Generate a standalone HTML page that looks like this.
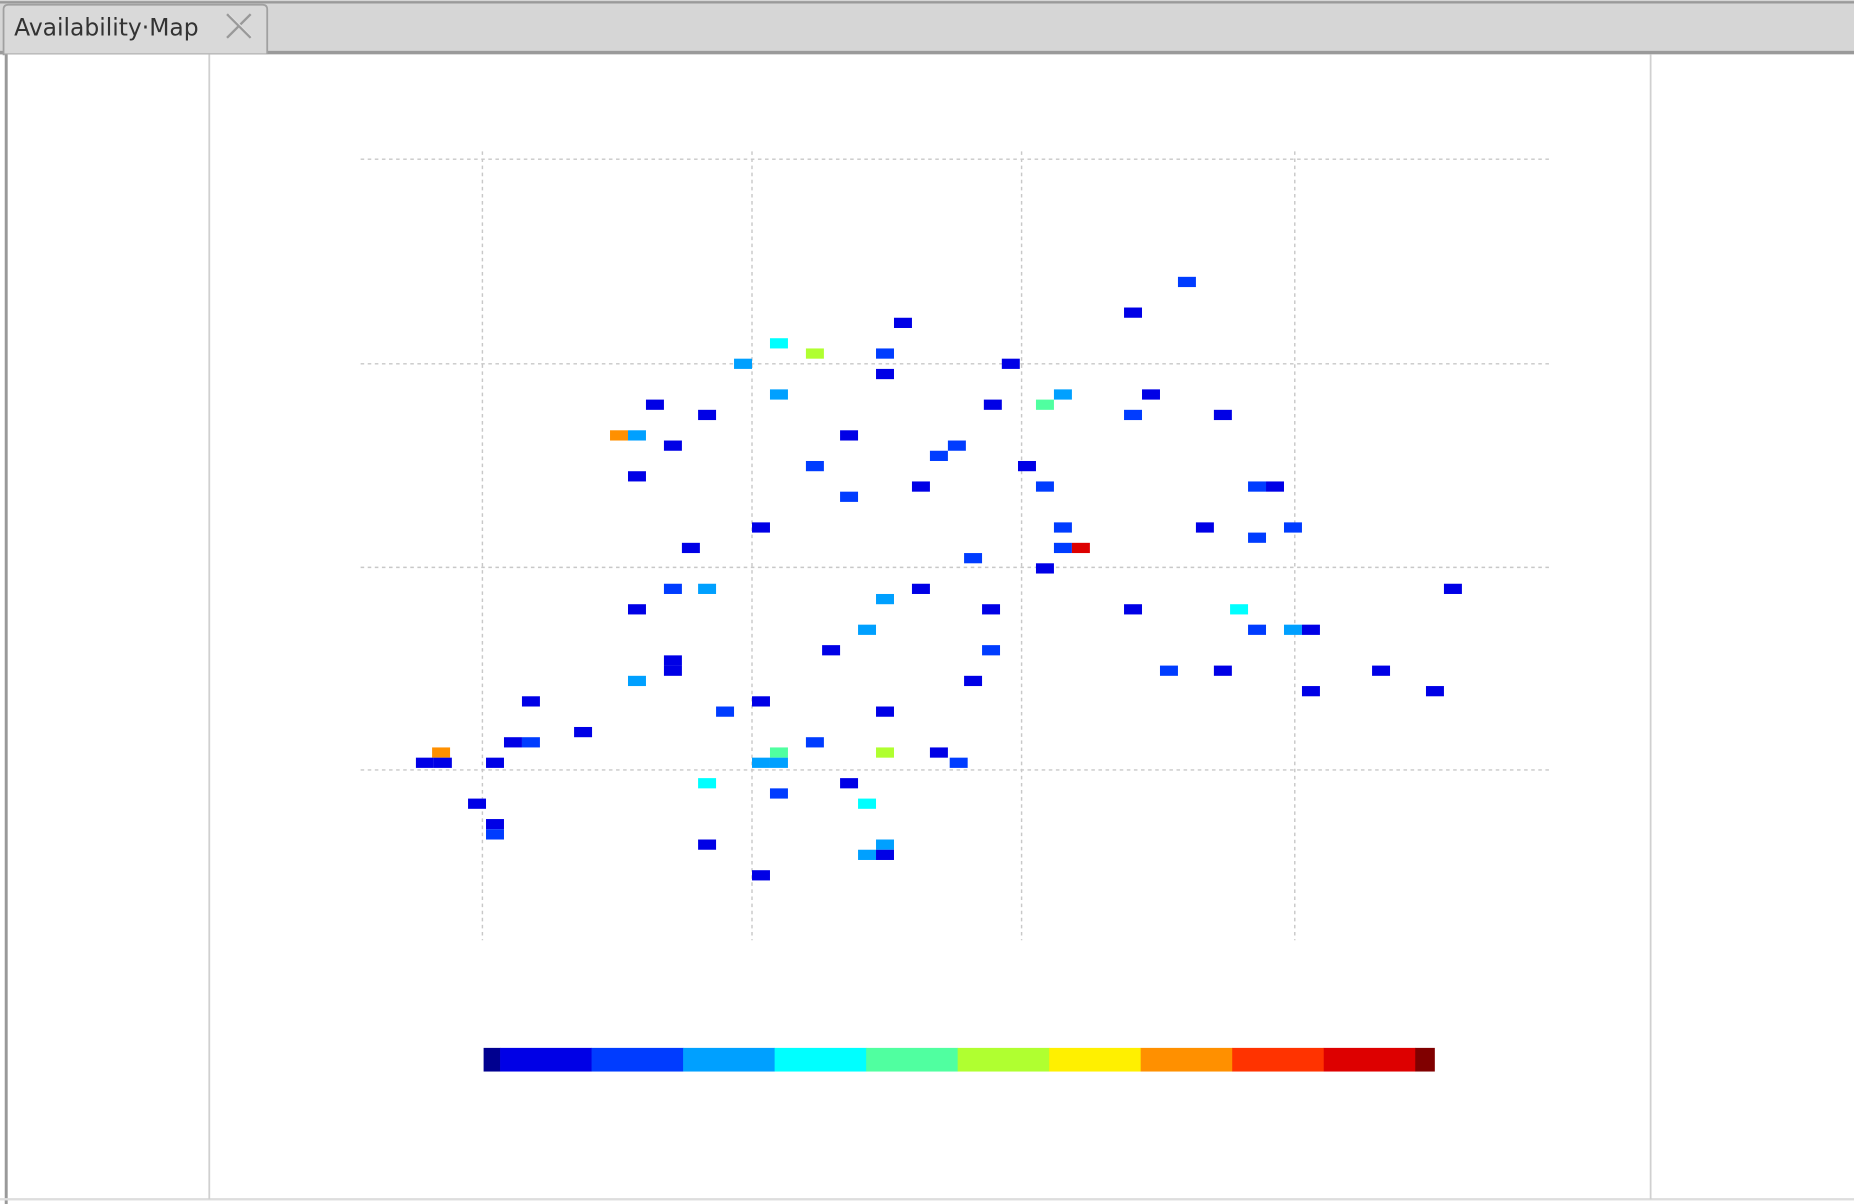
<!DOCTYPE html>
<html><head><meta charset="utf-8"><style>
html,body{margin:0;padding:0;background:#fff;width:1854px;height:1204px;overflow:hidden}
svg{display:block}
</style></head><body>
<svg id="root" width="1854" height="1204" viewBox="0 0 1568 1018" preserveAspectRatio="none" xmlns="http://www.w3.org/2000/svg">
  <rect x="0" y="0" width="1568" height="46" fill="#d6d6d6"/>
  <line x1="0" y1="2" x2="1568" y2="2" stroke="#9a9a9a" stroke-width="2"/>
  <rect x="0" y="43" width="1568" height="3" fill="#9a9a9a"/>
  <g>
    <path d="M3,46 L3,8 Q3,4 7,4 L222,4 Q226,4 226,8 L226,46 Z" fill="#d9d9d9" stroke="#a0a0a0" stroke-width="1.5"/>
    <text x="12" y="30" font-family="DejaVu Sans, Liberation Sans, sans-serif" font-size="20" fill="#333" textLength="156" lengthAdjust="spacingAndGlyphs">Availability·Map</text>
    <g stroke="#999" stroke-width="2" fill="none">
      <line x1="192" y1="12" x2="212" y2="32"/><line x1="212" y1="12" x2="192" y2="32"/>
      <line x1="194" y1="12" x2="214" y2="32" stroke="#ddd" stroke-width="1"/>
    </g>
  </g>
  <rect x="4" y="46" width="1564" height="968" fill="#fff"/>
  <rect x="4" y="46" width="2.5" height="972" fill="#999"/>
  <rect x="0" y="1013" width="1568" height="2" fill="#ddd"/>
  <line x1="177" y1="46" x2="177" y2="1014" stroke="#d0d0d0" stroke-width="1.5"/>
  <line x1="1396" y1="46" x2="1396" y2="1014" stroke="#d0d0d0" stroke-width="1.5"/>
  <g id="grid"></g>
  <g id="cells"></g>
  <g id="colorbar"></g>
</svg>
<script>
// grid lines (axis units)
const xGridTicks = [0, 15, 30, 45.2];
const yGridTicks = [0, 19.8, 39.7, 59.7];
// cell data: column (lon-like), row (lat-like), level (0-11)
const lons = [38.7,35.7,22.9,16.0,18.0,21.9,14.0,28.9,21.9,16.0,31.8,36.7,9.1,27.9,30.8,12.0,35.7,40.7,7.1,8.1,19.9,10.1,25.9,24.9,18.0,29.8,8.1,23.9,30.8,42.6,43.6,19.9,15.0,31.8,39.7,44.6,11.1,31.8,32.8,42.6,26.8,30.8,10.1,12.0,23.9,53.5,21.9,8.1,27.8,35.7,41.6,20.9,42.6,44.6,45.6,18.9,27.8,10.1,10.1,37.7,40.7,49.5,8.1,26.8,45.6,52.5,2.2,15.0,13.0,21.9,5.1,1.2,2.2,18.0,-2.8,16.0,21.9,24.9,-3.7,-2.7,0.2,15.0,16.0,26.0,12.0,19.9,16.0,-0.8,20.9,0.2,0.2,12.0,21.9,20.9,21.9,15.0];
const lats = [48,45,44,42,41,41,40,40,39,37,37,37,36,36,36,35,35,35,33,33,33,32,32,31,30,30,29,28,28,28,28,27,24,24,24,24,22,22,22,23,21,20,18,18,18,18,17,16,16,16,16,14,14,14,14,12,12,11,10,10,10,10,9,9,8,8,7,7,6,6,4,3,3,3,2,2,2,2,1,1,1,1,1,1,-1,-1,-2,-3,-3,-5,-6,-7,-7,-8,-8,-10];
const vals = [2,1,1,4,6,2,3,1,1,3,3,1,1,1,5,1,2,1,8,3,1,1,2,2,2,1,1,1,2,2,1,2,1,2,1,2,1,2,10,2,2,1,2,3,1,1,3,1,1,1,4,3,2,3,1,1,2,1,1,2,1,1,3,1,1,1,1,1,2,1,1,1,2,2,8,5,6,1,1,1,1,3,3,2,4,1,2,1,4,1,2,1,3,3,1,1];
const palette = ['#00008f','#0000e6','#003cff','#00a0ff','#00ffff','#50ffa0','#b0ff30','#fff000','#ff9000','#ff3300','#dd0000','#800000'];
const colorbarBounds = [0,0.18,1.18,2.18,3.18,4.18,5.18,6.18,7.18,8.18,9.18,10.18,10.39];

const NS='http://www.w3.org/2000/svg';
const cellW=15.2, cellH=8.65;
function xs(v){return 408+v*15.2;}
function ys(v){return 651-v*8.65;}
function cbx(v){return 409+v*77.4;}

const grid=document.getElementById('grid');
xGridTicks.forEach(t=>{
  const l=document.createElementNS(NS,'line');
  
  
  l.setAttribute('x1',xs(t));l.setAttribute('x2',xs(t));
  l.setAttribute('y1',128);l.setAttribute('y2',795);
  l.setAttribute('stroke','#c8c8c8');l.setAttribute('stroke-dasharray','3,3');l.setAttribute('stroke-width','1.2');
  grid.appendChild(l);
});
yGridTicks.forEach(t=>{
  const l=document.createElementNS(NS,'line');
  
  
  l.setAttribute('x1',305);l.setAttribute('x2',1310);
  l.setAttribute('y1',ys(t));l.setAttribute('y2',ys(t));
  l.setAttribute('stroke','#c8c8c8');l.setAttribute('stroke-dasharray','3,3');l.setAttribute('stroke-width','1.2');
  grid.appendChild(l);
});

const cells=document.getElementById('cells');
for(let i=0;i<lons.length;i++){
  const r=document.createElementNS(NS,'rect');
  
  
  r.setAttribute('x',xs(lons[i]));
  r.setAttribute('y',ys(lats[i]+0.2));
  r.setAttribute('width',cellW);
  r.setAttribute('height',cellH);
  r.setAttribute('fill',palette[vals[i]]);
  cells.appendChild(r);
}

const cb=document.getElementById('colorbar');
for(let i=0;i<palette.length;i++){
  const r=document.createElementNS(NS,'rect');
  
  
  r.setAttribute('x',cbx(colorbarBounds[i]));
  r.setAttribute('y',886);
  r.setAttribute('width',cbx(colorbarBounds[i+1])-cbx(colorbarBounds[i])+0.3);
  r.setAttribute('height',20);
  r.setAttribute('fill',palette[i]);
  cb.appendChild(r);
}
</script>
</body></html>
